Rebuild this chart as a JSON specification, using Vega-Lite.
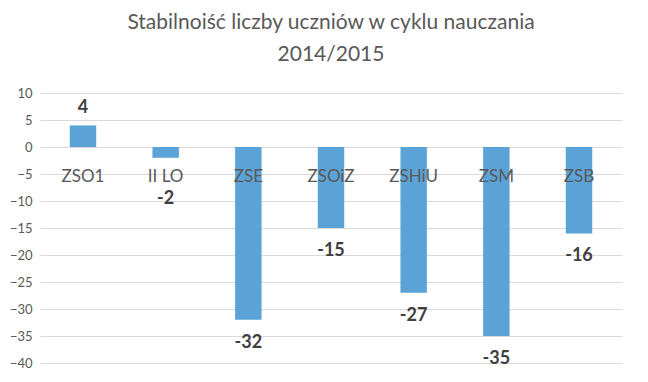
{
  "$schema": "https://vega.github.io/schema/vega-lite/v6.json",
  "width": 582,
  "height": 270,
  "autosize": {"type": "none"},
  "padding": {"left": 40, "top": 93, "right": 26, "bottom": 19},
  "background": "white",
  "config": {"view": {"stroke": null}, "font": "Lato"},
  "title": {
    "text": ["Stabilnoiść liczby uczniów w cyklu nauczania", "2014/2015"],
    "fontSize": 21,
    "fontWeight": "normal",
    "color": "#595959",
    "lineHeight": 32,
    "anchor": "middle",
    "offset": 22,
    "font": "Lato"
  },
  "data": {
    "values": [
      {"school": "ZSO1", "value": 4},
      {"school": "II LO", "value": -2},
      {"school": "ZSE", "value": -32},
      {"school": "ZSOiZ", "value": -15},
      {"school": "ZSHiU", "value": -27},
      {"school": "ZSM", "value": -35},
      {"school": "ZSB", "value": -16}
    ]
  },
  "encoding": {
    "x": {"field": "school", "type": "nominal", "sort": null, "axis": null,
          "scale": {"paddingInner": 0.68, "paddingOuter": 0.36}},
    "y": {"field": "value", "type": "quantitative",
          "scale": {"domain": [-40, 10], "nice": false},
          "axis": {"title": null, "values": [-40,-35,-30,-25,-20,-15,-10,-5,0,5,10],
                   "domain": false, "ticks": false, "labelPadding": 8,
                   "labelColor": "#595959", "labelFontSize": 13, "labelFont": "Lato",
                   "gridColor": "#d9d9d9", "gridWidth": 1}}
  },
  "layer": [
    {"mark": {"type": "bar", "color": "#5BA3D6"}},
    {"mark": {"type": "text", "fontSize": 17, "color": "#595959", "font": "Lato"},
     "encoding": {"y": {"datum": -5.6}, "text": {"field": "school"}}},
    {"transform": [{"filter": "datum.value > 0"}],
     "mark": {"type": "text", "fontSize": 18, "fontWeight": "bold", "color": "#404040", "font": "Lato", "dy": -17},
     "encoding": {"text": {"field": "value"}}},
    {"transform": [{"filter": "datum.value === -2"}],
     "mark": {"type": "text", "fontSize": 18, "fontWeight": "bold", "color": "#404040", "font": "Lato", "dy": 41},
     "encoding": {"text": {"field": "value"}}},
    {"transform": [{"filter": "datum.value < -2"}],
     "mark": {"type": "text", "fontSize": 18, "fontWeight": "bold", "color": "#404040", "font": "Lato", "dy": 23},
     "encoding": {"text": {"field": "value"}}}
  ]
}
